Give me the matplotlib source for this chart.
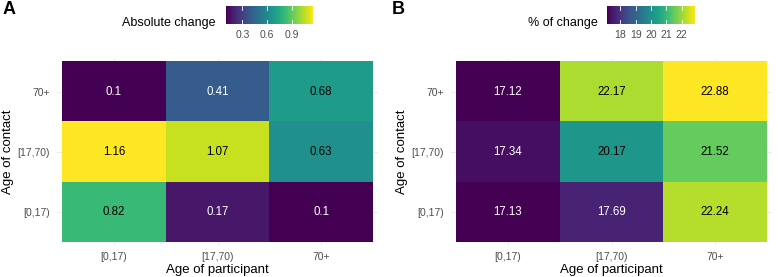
import numpy as np
import matplotlib.pyplot as plt
import matplotlib as mpl

plt.rcParams.update({
    'font.family': ['Liberation Sans', 'DejaVu Sans'],
    'font.size': 8,
})

participant = ['[0,17)', '[17,70)', '70+']
contact = ['[0,17)', '[17,70)', '70+']

# rows = contact (bottom to top), cols = participant
abs_change = np.array([
    [0.82, 0.17, 0.10],
    [1.16, 1.07, 0.63],
    [0.10, 0.41, 0.68],
])
pct_change = np.array([
    [17.13, 17.69, 22.24],
    [17.34, 20.17, 21.52],
    [17.12, 22.17, 22.88],
])

W, H = 778, 277
fig = plt.figure(figsize=(W / 100, H / 100), dpi=100)
cmap = plt.get_cmap('viridis')
grid_col = '#EBEBEB'
tick_col = '#4D4D4D'


def px(x0, y0, x1, y1):
    return [x0 / W, 1 - y1 / H, (x1 - x0) / W, (y1 - y0) / H]


def heat(ax, data, fmt, xc, yl):
    vmin, vmax = data.min(), data.max()
    norm = mpl.colors.Normalize(vmin, vmax)
    for k in range(3):
        ax.axvline(k, color=grid_col, lw=0.8, zorder=0)
        ax.axhline(k, color=grid_col, lw=0.8, zorder=0)
    ax.imshow(data, cmap=cmap, norm=norm, origin='lower',
              extent=(-0.5, 2.5, -0.5, 2.5), aspect='auto', zorder=1)
    for i in range(3):
        for j in range(3):
            v = data[i, j]
            c = 'white' if norm(v) < 0.45 else 'black'
            ax.text(j, i, fmt.format(v), ha='center', va='center',
                    color=c, fontsize=8.3, zorder=2)
    ax.set_xlim(-0.55, 2.55)
    ax.set_ylim(-0.55, 2.55)
    ax.set_xticks(range(3))
    ax.set_xticklabels(participant)
    ax.set_yticks(range(3))
    ax.set_yticklabels(contact)
    ax.tick_params(length=0, colors=tick_col, labelsize=7.5)
    ax.tick_params(axis='x', pad=5)
    ax.tick_params(axis='y', pad=5)
    for s in ax.spines.values():
        s.set_visible(False)
    fig.text(xc / W, 1 - 270 / H, 'Age of participant', fontsize=9.5,
             ha='center', va='center')
    fig.text(yl / W, 1 - 152 / H, 'Age of contact', fontsize=9.5,
             ha='center', va='center', rotation=90)
    return vmin, vmax


def cbar(rect, vmin, vmax, ticks, labels, title, title_x):
    cax = fig.add_axes(px(*rect))
    grad = np.linspace(vmin, vmax, 256)[None, :]
    cax.imshow(grad, cmap=cmap, aspect='auto', extent=(vmin, vmax, 0, 1))
    for t in ticks:
        cax.plot([t, t], [0, 0.2], color='white', lw=0.6)
        cax.plot([t, t], [0.8, 1], color='white', lw=0.6)
    cax.set_xlim(vmin, vmax)
    cax.set_ylim(0, 1)
    cax.set_xticks(ticks)
    cax.set_xticklabels(labels)
    cax.set_yticks([])
    cax.tick_params(length=0, colors=tick_col, labelsize=7.5, pad=4)
    for s in cax.spines.values():
        s.set_visible(False)
    fig.text(title_x / W, 1 - 23 / H, title, ha='right', va='center',
             fontsize=9)


axA = fig.add_axes(px(57, 59, 378, 245))
vmin, vmax = heat(axA, abs_change, '{:g}', 217, 8)
cbar((226, 6, 313, 24), vmin, vmax, [0.3, 0.6, 0.9],
     ['0.3', '0.6', '0.9'], 'Absolute change', 215)

axB = fig.add_axes(px(451, 59, 772, 245))
vmin, vmax = heat(axB, pct_change, '{:.2f}', 611, 402)
cbar((607, 6, 695, 24), vmin, vmax, [18, 19, 20, 21, 22],
     ['18', '19', '20', '21', '22'], '% of change', 598)

fig.text(3 / W, 1 - 10 / H, 'A', fontsize=13, fontweight='bold',
         ha='left', va='center')
fig.text(392 / W, 1 - 10 / H, 'B', fontsize=13, fontweight='bold',
         ha='left', va='center')

fig.savefig('out.png', dpi=100)
